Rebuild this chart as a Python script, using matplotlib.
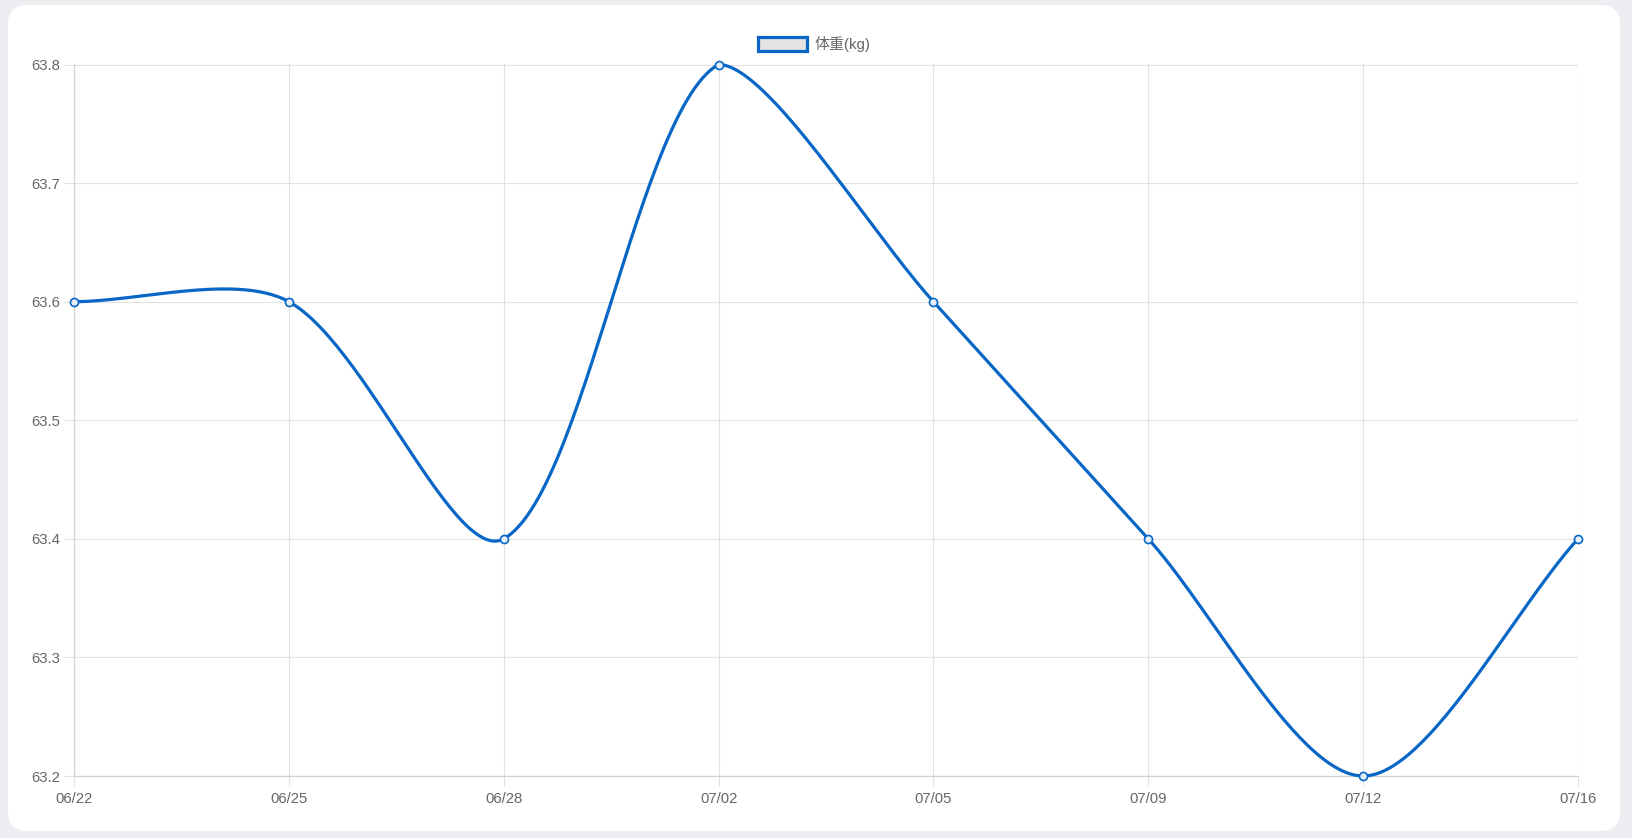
import numpy as np
import matplotlib
matplotlib.use("Agg")
import matplotlib.pyplot as plt
from matplotlib.patches import FancyBboxPatch, Rectangle

plt.rcParams['font.family'] = ['Liberation Sans', 'Noto Sans CJK SC', 'DejaVu Sans']

dates = ["06/22", "06/25", "06/28", "07/02", "07/05", "07/09", "07/12", "07/16"]
weight = [63.6, 63.6, 63.4, 63.8, 63.6, 63.4, 63.2, 63.4]
y_ticks = [63.2, 63.3, 63.4, 63.5, 63.6, 63.7, 63.8]
label = "体重(kg)"

line_color = "#0866c6"
grid_color = "#e2e2e2"
text_color = "#666666"
W, H = 1633, 838

fig = plt.figure(figsize=(W / 100, H / 100), dpi=100)
fig.patch.set_facecolor("#eceef2")

# white card behind the chart
card = FancyBboxPatch((8 / W, 7 / H), (1612 / W), (826 / H),
                      boxstyle="round,pad=0,rounding_size=0.012",
                      transform=fig.transFigure, facecolor="white",
                      edgecolor="none", mutation_aspect=W / H, zorder=-10)
fig.patches.append(card)

left, right, top, bottom = 74, 1578, 64.5, 776
ax = fig.add_axes([left / W, 1 - bottom / H, (right - left) / W, (bottom - top) / H])
ax.set_facecolor("none")
ax.set_zorder(2)

x = np.arange(len(dates))
ax.set_xlim(0, len(dates) - 1)
ax.set_ylim(63.2, 63.8)


def spline_path(xs, ys, tension=0.3, n=60):
    # Chart.js style cubic bezier, control points capped to the plot area
    pts = ax.transData.transform(np.column_stack([xs, ys]))
    bb = ax.bbox
    m = len(pts)
    cps_prev, cps_next = [], []
    for i in range(m):
        p0 = pts[max(i - 1, 0)]
        p1 = pts[i]
        p2 = pts[min(i + 1, m - 1)]
        d01 = np.hypot(*(p1 - p0))
        d12 = np.hypot(*(p2 - p1))
        s01 = d01 / (d01 + d12)
        s12 = d12 / (d01 + d12)
        cp = p1 - tension * s01 * (p2 - p0)
        cn = p1 + tension * s12 * (p2 - p0)
        for c in (cp, cn):
            c[0] = np.clip(c[0], bb.x0, bb.x1)
            c[1] = np.clip(c[1], bb.y0, bb.y1)
        cps_prev.append(cp)
        cps_next.append(cn)
    out = [pts[0]]
    t = np.linspace(0, 1, n)[1:, None]
    for i in range(m - 1):
        a, b, c, d = pts[i], cps_next[i], cps_prev[i + 1], pts[i + 1]
        seg = ((1 - t) ** 3) * a + 3 * ((1 - t) ** 2) * t * b + 3 * (1 - t) * t ** 2 * c + t ** 3 * d
        out.extend(seg)
    return ax.transData.inverted().transform(np.array(out))


curve = spline_path(x, weight)
ax.plot(curve[:, 0], curve[:, 1], color=line_color, lw=2.3, solid_capstyle="round", clip_on=False, zorder=3)
ax.plot(x, weight, linestyle="none", marker="o", markersize=5.8, markerfacecolor="#e6eef8",
        markeredgecolor=line_color, markeredgewidth=1.2, clip_on=False, zorder=4)

ax.set_xticks(x)
ax.set_xticklabels(dates)
ax.set_yticks(y_ticks)
ax.set_yticklabels([f"{v:.1f}" for v in y_ticks])
ax.grid(True, color=grid_color, lw=0.8)
ax.set_axisbelow(True)
for s in ["top", "right"]:
    ax.spines[s].set_visible(False)
for s in ["left", "bottom"]:
    ax.spines[s].set_color("#d2d2d2")
    ax.spines[s].set_linewidth(0.9)
ax.tick_params(axis="both", colors=grid_color, length=7, width=0.8, labelsize=10.7, labelcolor=text_color)
ax.tick_params(axis="y", pad=3)
ax.tick_params(axis="x", pad=4.5)

# legend
fig.patches.append(Rectangle((758 / W, 1 - 51 / H), 49 / W, 14 / H, transform=fig.transFigure,
                             facecolor="#e3e3e3", edgecolor=line_color, lw=2.3))
fig.text(815 / W, 1 - 44 / H, label, color=text_color, fontsize=10.8, va="center", ha="left")

fig.savefig("out.png", dpi=100)
